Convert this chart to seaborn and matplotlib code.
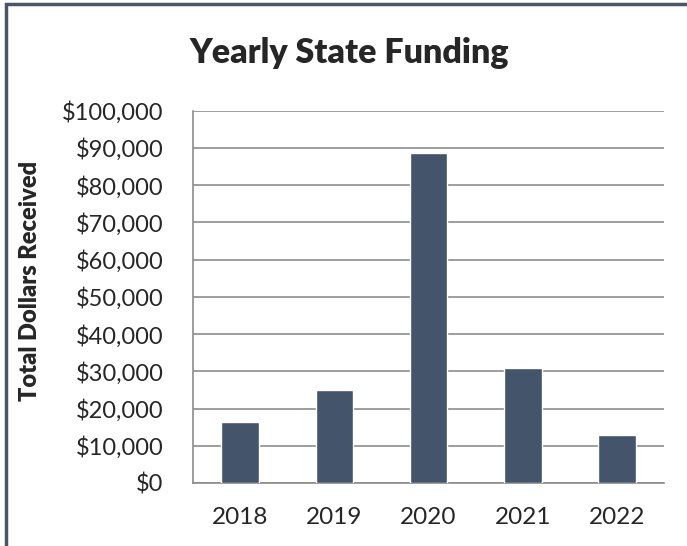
import matplotlib
matplotlib.use("Agg")
import matplotlib.pyplot as plt
import seaborn as sns
import pandas as pd
from matplotlib.patches import Rectangle
from matplotlib.ticker import FuncFormatter, FixedLocator

years = ["2018", "2019", "2020", "2021", "2022"]
funding = [16500, 25000, 88600, 30800, 13000]

df = pd.DataFrame({"Year": years, "Funding": funding})

sns.set_style("white")
plt.rcParams['font.family'] = ['Lato', 'DejaVu Sans']

fig = plt.figure(figsize=(6.87, 5.46), dpi=100)
ax = fig.add_axes([0.281, 0.1154, 0.6856, 0.682])

sns.barplot(data=df, x="Year", y="Funding", color="#44546A", width=0.4,
            saturation=1, ax=ax, zorder=3)

ax.set_ylim(0, 100000)
ax.set_xlim(-0.5, 4.5)
ax.set_yticks(range(0, 100001, 10000))
ax.yaxis.set_major_formatter(FuncFormatter(lambda v, p: "${:,.0f}".format(v)))
ax.grid(axis="y", color="#8c8c8c", linewidth=1.2, zorder=0)
ax.xaxis.set_minor_locator(FixedLocator([-0.5, 0.5, 1.5, 2.5, 3.5, 4.5]))
ax.tick_params(axis="x", which="major", length=0, pad=17, labelsize=17.5)
ax.tick_params(axis="x", which="minor", length=5.5, color="#8c8c8c", width=1.2)
ax.tick_params(axis="y", length=5.8, color="#8c8c8c", width=1.2, labelsize=17, pad=15.5)

for s in ["top", "right"]:
    ax.spines[s].set_visible(False)
for s in ["left", "bottom"]:
    ax.spines[s].set_color("#8c8c8c")
    ax.spines[s].set_linewidth(1.2)

ax.set_xlabel("")
ax.set_ylabel("")
fig.text(0.044, 0.485, "Total Dollars Received", rotation=90, ha="center",
         va="center", fontsize=17, fontweight="heavy")

fig.text(0.509, 0.903, "Yearly State Funding", ha="center", va="center",
         fontsize=24.5, fontweight="heavy")

# outer chart border, running off the right and bottom edges
fig.patches.append(Rectangle((0.0085, -0.1), 1.2, 1.092, transform=fig.transFigure,
                             fill=False, edgecolor="#4a5568", linewidth=2.5))

fig.savefig("out.png", dpi=100)
